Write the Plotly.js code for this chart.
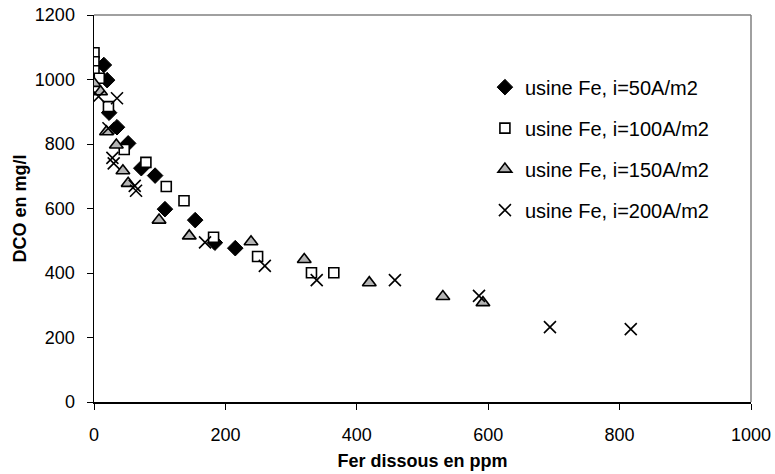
<!DOCTYPE html>
<html>
<head>
<meta charset="utf-8">
<script src="https://cdn.plot.ly/plotly-3.0.1.min.js"></script>
<style>html,body{margin:0;padding:0;background:#fff;}#chart{width:775px;height:474px;}</style>
</head>
<body>
<div id="chart"></div>
<script>
// Series: Fer dissous (ppm) vs DCO (mg/l)
const names = ["usine Fe, i=50A/m2", "usine Fe, i=100A/m2", "usine Fe, i=150A/m2", "usine Fe, i=200A/m2"];

const fe50_x = [15, 20, 23, 35, 52, 72, 93, 108, 154, 184, 215];
const fe50_y = [1045, 998, 897, 852, 802, 725, 702, 598, 564, 494, 477];

const fe100_x = [0, 0, 0, 8, 22, 46, 79, 110, 137, 182, 249, 331, 365];
const fe100_y = [1083, 1055, 1027, 1004, 916, 783, 743, 668, 624, 511, 451, 401, 401];

const fe150_x = [0, 10, 19, 34, 44, 52, 99, 145, 239, 320, 419, 531, 592];
const fe150_y = [988, 962, 838, 797, 717, 678, 564, 515, 497, 442, 370, 327, 308];

const fe200_x = [7, 35, 22, 28, 30, 62, 64, 169, 260, 339, 458, 586, 694, 817];
const fe200_y = [947, 942, 849, 757, 740, 670, 655, 495, 422, 378, 378, 329, 232, 226];

const xTicks = [0, 200, 400, 600, 800, 1000];
const yTicks = [0, 200, 400, 600, 800, 1000, 1200];

const font = "Liberation Sans, Arial, sans-serif";

const traces = [
  {x: fe50_x, y: fe50_y, name: names[0], legendgroup: "a", mode: "markers", type: "scatter",
   marker: {symbol: "diamond", size: 12, color: "#000000", line: {color: "#000000", width: 1}}},
  {x: fe100_x, y: fe100_y, name: names[1], legendgroup: "b", mode: "markers", type: "scatter",
   marker: {symbol: "square", size: 10, color: "#ffffff", line: {color: "#000000", width: 1.6}}},
  {x: fe150_x, y: fe150_y, name: names[2], legendgroup: "c", mode: "markers", type: "scatter",
   marker: {symbol: "triangle-up", size: 12, color: "#b4b4b4", line: {color: "#000000", width: 1.6}}},
  {x: fe200_x, y: fe200_y, name: names[3], legendgroup: "d", mode: "markers", type: "scatter",
   marker: {symbol: "x-thin-open", size: 12, color: "#000000", line: {color: "#000000", width: 1.6}}}
];

const layout = {
  width: 775, height: 474,
  margin: {l: 94, r: 24, t: 15, b: 72},
  paper_bgcolor: "#ffffff", plot_bgcolor: "#ffffff",
  font: {family: font, size: 18, color: "#000000"},
  showlegend: true,
  legend: {x: 0.595, y: 0.864, xanchor: "left", yanchor: "top", traceorder: "grouped",
           tracegroupgap: 12, font: {family: font, size: 20, color: "#000000"},
           bgcolor: "rgba(0,0,0,0)", itemwidth: 30},
  xaxis: {range: [0, 1000], tickvals: xTicks, ticktext: xTicks.map(String),
          showgrid: false, zeroline: false, showline: true, linecolor: "#000000", linewidth: 1.5,
          ticks: "outside", ticklen: 6, tickcolor: "#000000", tickwidth: 1,
          ticklabelstandoff: 10,
          tickfont: {family: font, size: 18},
          title: {text: "Fer dissous en ppm", font: {family: font, size: 18, weight: "bold"}, standoff: 10}},
  yaxis: {range: [0, 1200], tickvals: yTicks, ticktext: yTicks.map(String),
          showgrid: false, zeroline: false, showline: true, linecolor: "#000000", linewidth: 1.5,
          ticks: "outside", ticklen: 6, tickcolor: "#000000", tickwidth: 1,
          ticklabelstandoff: 8,
          tickfont: {family: font, size: 18},
          title: {text: "DCO en mg/l", font: {family: font, size: 18, weight: "bold"}, standoff: 3}},
  shapes: [
    {type: "line", xref: "paper", yref: "paper", x0: 0, x1: 1, y0: 1, y1: 1, line: {color: "#808080", width: 1.5}},
    {type: "line", xref: "paper", yref: "paper", x0: 1, x1: 1, y0: 0, y1: 1, line: {color: "#808080", width: 1.5}}
  ]
};

Plotly.newPlot("chart", traces, layout, {displayModeBar: false, staticPlot: true});
</script>
</body>
</html>
